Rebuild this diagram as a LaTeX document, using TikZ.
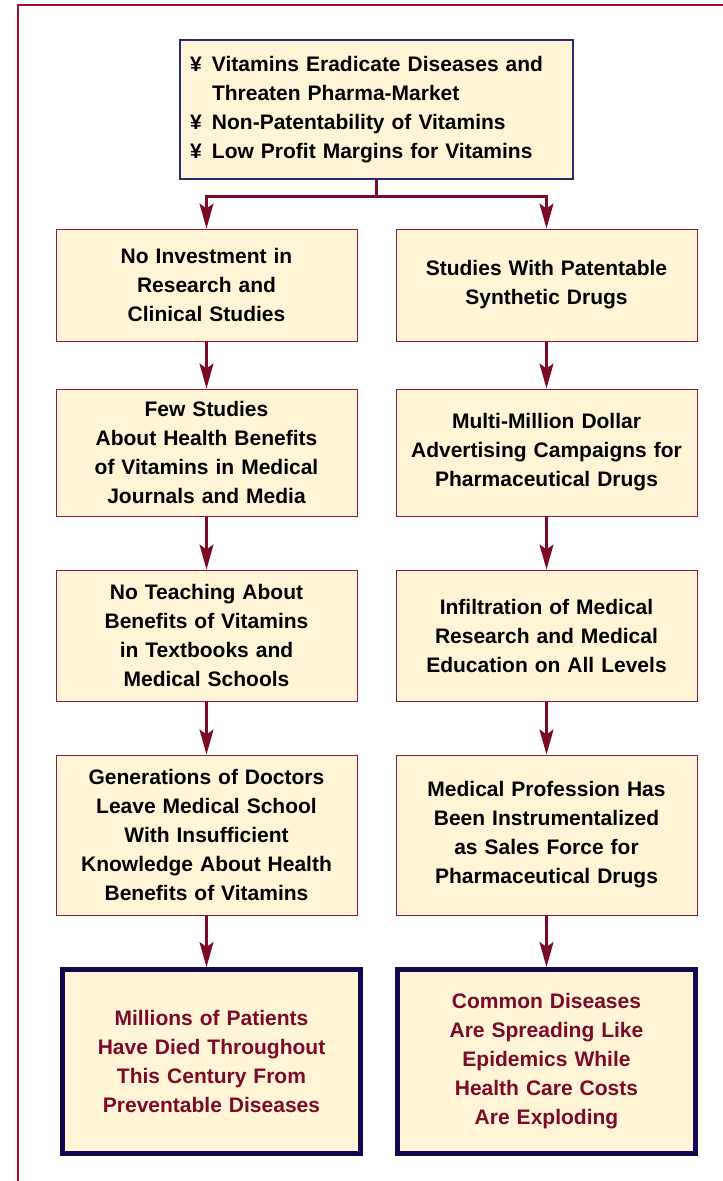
\documentclass[tikz,border=0pt]{standalone}
\usepackage{fontspec}
\setmainfont{Liberation Sans}
\usetikzlibrary{arrows.meta}
\definecolor{boxfill}{HTML}{FFF5D6}
\definecolor{boxline}{HTML}{8B1A3A}
\definecolor{topline}{HTML}{2A2A70}
\definecolor{navy}{HTML}{14084E}
\definecolor{arrowred}{HTML}{7A0A26}
\definecolor{framered}{HTML}{A8102E}
\definecolor{textred}{HTML}{7A0A28}
\begin{document}
\begin{tikzpicture}[x=1pt,y=-1pt,
  every node/.style={font=\fontsize{21}{29}\selectfont\bfseries},
  stepbox/.style={draw=boxline, line width=1pt, fill=boxfill, minimum width=301pt,
    text width=290pt, align=center, inner sep=0pt},
  finalbox/.style={draw=navy, line width=5pt, fill=boxfill, text=textred,
    minimum width=298pt, minimum height=184pt, text width=280pt, align=center, inner sep=0pt},
  topbox/.style={draw=topline, line width=1.2pt, fill=boxfill, minimum width=393pt,
    minimum height=139pt, text width=373pt, align=left, inner xsep=10pt, inner ysep=0pt},
  conn/.style={draw=arrowred, line width=2.5pt, -{Stealth[length=25pt,width=14pt,inset=5pt]}}]
\useasboundingbox (0,0) rectangle (723,1181);
% frame
\draw[framered, line width=1.6pt] (18,1181) -- (18,5) -- (723,5);

\node[topbox] (top) at (376.5,109.5)
  {\makebox[22pt][l]{¥}Vitamins Eradicate Diseases and\\
   \makebox[22pt][l]{}Threaten Pharma-Market\\
   \makebox[22pt][l]{¥}Non-Patentability of Vitamins\\
   \makebox[22pt][l]{¥}Low Profit Margins for Vitamins};

% left column
\node[stepbox, minimum height=112pt] (a1) at (206.5,285)
  {No Investment in\\Research and\\Clinical Studies};
\node[stepbox, minimum height=127pt] (a2) at (206.5,452.5)
  {Few Studies\\About Health Benefits\\of Vitamins in Medical\\Journals and Media};
\node[stepbox, minimum height=131pt] (a3) at (206.5,635.5)
  {No Teaching About\\Benefits of Vitamins\\in Textbooks and\\Medical Schools};
\node[stepbox, minimum height=160pt] (a4) at (206.5,835)
  {Generations of Doctors\\Leave Medical School\\With Insufficient\\Knowledge About Health\\Benefits of Vitamins};
\node[finalbox] (a5) at (211.5,1061.5)
  {Millions of Patients\\Have Died Throughout\\This Century From\\Preventable Diseases};

% right column
\node[stepbox, minimum height=112pt] (b1) at (546.5,285)
  {Studies With Patentable\\Synthetic Drugs};
\node[stepbox, minimum height=127pt] (b2) at (546.5,452.5)
  {Multi-Million Dollar\\Advertising Campaigns for\\Pharmaceutical Drugs};
\node[stepbox, minimum height=131pt] (b3) at (546.5,635.5)
  {Infiltration of Medical\\Research and Medical\\Education on All Levels};
\node[stepbox, minimum height=160pt] (b4) at (546.5,835)
  {Medical Profession Has\\Been Instrumentalized\\as Sales Force for\\Pharmaceutical Drugs};
\node[finalbox] (b5) at (546.5,1061.5)
  {Common Diseases\\Are Spreading Like\\Epidemics While\\Health Care Costs\\Are Exploding};

% connectors
\coordinate (split) at (376.5,196.5);
\draw[arrowred, line width=2.5pt] (top.south) -- (split);
\draw[conn] (split) -| (a1.north);
\draw[conn] (split) -| (b1.north);
\draw[conn] (a1) -- (a2);
\draw[conn] (a2) -- (a3);
\draw[conn] (a3) -- (a4);
\draw[conn] (a4.south) -- (a4.south |- a5.north);
\draw[conn] (b1) -- (b2);
\draw[conn] (b2) -- (b3);
\draw[conn] (b3) -- (b4);
\draw[conn] (b4) -- (b5);
\end{tikzpicture}
\end{document}
